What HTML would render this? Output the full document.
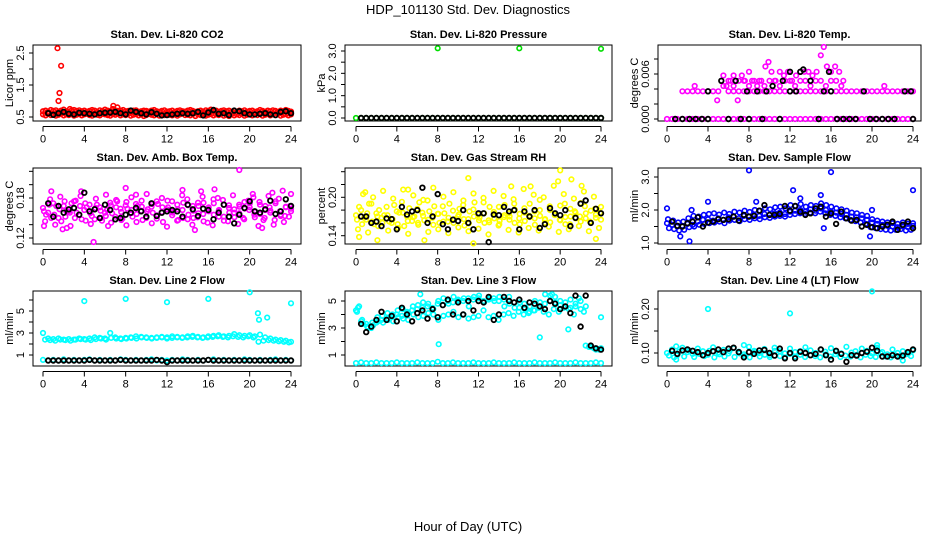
<!DOCTYPE html>
<html><head><meta charset="utf-8"><style>
body{margin:0;background:#fff}
svg{display:block}
text{font-family:"Liberation Sans",Arial,sans-serif;fill:#000}
</style></head><body>
<svg id="chart" width="936" height="540" viewBox="0 0 936 540" xmlns="http://www.w3.org/2000/svg">
<text x="468" y="14" font-size="13" text-anchor="middle">HDP_101130  Std. Dev. Diagnostics</text>
<text x="468" y="531" font-size="13" text-anchor="middle">Hour of Day (UTC)</text>
</svg>
<script>
// ---- data (hours spread evenly across 0..24 for colored, 0.5..24 for black) ----
const co2RedA = "0.68 0.70 0.66 0.72 0.69 0.71 0.67 0.70 0.73 0.68 0.66 0.70 0.72 0.69 0.71 0.68 0.70 0.67 0.69 0.72 0.70 0.66 0.71 0.69 0.73 0.70 0.68 0.75 0.71 0.69 0.70 0.72 0.68 0.69 0.67 0.70 0.71 0.66 0.68 0.70 0.69 0.67 0.70 0.72 0.68 0.66 0.69 0.71 0.67 0.68 0.70 0.66 0.69 0.71 0.68 0.67 0.70 0.72 0.69 0.66 0.68 0.70 0.67 0.71 0.69 0.73 0.68 0.70 0.66 0.69 0.71 0.68 0.70 0.67 0.69 0.66 0.70 0.68 0.71 0.67 0.69 0.70 0.66 0.68 0.72 0.69 0.67 0.70 0.68 0.71 0.69 0.66 0.70 0.68 0.72 0.69 0.67".split(" ").map(Number);
const co2RedB = "0.58 0.55 0.60 0.56 0.59 0.54 0.57 0.60 0.55 0.58 0.56 0.61 0.54 0.57 0.59 0.55 0.58 0.60 0.56 0.54 0.59 0.57 0.55 0.60 0.58 0.56 0.54 0.59 0.57 0.61 0.55 0.58 0.56 0.60 0.54 0.57 0.59 0.55 0.58 0.53 0.56 0.60 0.57 0.55 0.59 0.54 0.58 0.56 0.60 0.57 0.55 0.59 0.54 0.58 0.61 0.56 0.57 0.55 0.59 0.53 0.58 0.56 0.60 0.54 0.57 0.59 0.55 0.58 0.56 0.60 0.54 0.57 0.53 0.59 0.55 0.58 0.56 0.60 0.54 0.57 0.59 0.55 0.58 0.56 0.60 0.54 0.57 0.59 0.55 0.58 0.56 0.60 0.54 0.57 0.59 0.55 0.58".split(" ").map(Number);
const co2OutT = [1.4,1.75,1.6,1.5,6.8,7.2,2.6];
const co2OutV = [2.65,2.1,1.25,1.0,0.85,0.8,0.75];
const co2Black = "0.62 0.57 0.62 0.66 0.60 0.58 0.63 0.62 0.60 0.58 0.62 0.63 0.64 0.66 0.62 0.58 0.70 0.66 0.62 0.58 0.65 0.60 0.55 0.56 0.58 0.60 0.62 0.60 0.62 0.66 0.55 0.64 0.72 0.60 0.62 0.56 0.70 0.68 0.62 0.58 0.58 0.60 0.62 0.58 0.56 0.66 0.68 0.62".split(" ").map(Number);

const presGreen = "0 0 0 0 0 0 0 0 0 0 0 0 0 0 0 0 0 0 0 0 0 0 0 0 0 0 0 0 0 0 0 0 0 0 0 0 0 0 0 0 0 0 0 0 0 0 0 0 0".split(" ").map(Number);
const presOutT = [8,16,24];
const presOutV = [3.12,3.12,3.1];
const presBlack = "0 0 0 0 0 0 0 0 0 0 0 0 0 0 0 0 0 0 0 0 0 0 0 0 0 0 0 0 0 0 0 0 0 0 0 0 0 0 0 0 0 0 0 0 0 0 0 0".split(" ").map(Number);

const tempZero = "0 0 0 0 0 0 0 0 0 0 0 0 0 0 0 0 0 0 0 0 0 0 0 0 0 0 0 0 0 0 0 0 0 0 0 0 0 0 0 0 0 0 0 0 0 0 0 0 0".split(" ").map(Number);
const tempLow = "NaN NaN NaN 0.0037 0.0037 0.0037 0.0037 0.0037 0.0037 0.0037 0.0037 NaN 0.0037 0.0037 0.0037 0.0037 0.0037 0.0037 0.0037 0.0037 0.0037 0.0037 0.0037 0.0037 0.0037 0.0037 0.0037 0.0037 0.0037 0.0037 0.0037 0.0037 0.0037 0.0037 0.0037 0.0037 0.0037 0.0037 0.0037 0.0037 0.0037 0.0037 0.0037 0.0037 0.0037 0.0037 0.0037 0.0037 0.0037".split(" ").map(Number);
const tempMid = "NaN NaN NaN NaN NaN NaN NaN NaN NaN NaN NaN 0.0044 0.0051 0.0044 0.0051 0.0051 0.0044 0.0051 0.0051 0.0044 0.0051 0.0051 0.0044 0.0051 0.0051 0.0044 0.0051 0.0051 0.0044 0.0051 0.0051 0.0044 0.0051 0.0051 0.0044 NaN NaN NaN NaN NaN NaN NaN NaN NaN NaN NaN NaN NaN NaN".split(" ").map(Number);
const tempUpT = [2.7,4.9,5.5,5.8,6.2,6.5,6.9,7.3,7.6,8.0,8.3,8.8,9.2,9.6,9.9,10.2,10.6,11.0,11.4,11.8,12.2,12.6,13.0,13.4,13.8,14.2,14.6,15.0,15.3,15.6,16.0,16.4,16.8,17.2,21.2];
const tempUpV = [0.0044,0.0025,0.0058,0.0044,0.0051,0.0058,0.0025,0.0058,0.0051,0.0063,0.0051,0.0044,0.0051,0.0070,0.0076,0.0063,0.0051,0.0063,0.0058,0.0063,0.0051,0.0058,0.0063,0.0063,0.0063,0.0058,0.0063,0.0085,0.0096,0.0070,0.0063,0.0070,0.0063,0.0051,0.0044];
const tempBlackT = [0.8,1.5,2.2,2.8,3.4,4.0,4.0,5.3,6.0,6.7,7.2,7.8,8.0,8.8,9.3,9.7,10.3,11.0,11.3,12.0,12.0,12.6,13.0,13.3,14.0,14.8,15.3,15.8,16.0,16.6,17.2,17.8,18.4,19.2,19.8,20.4,21.0,21.6,22.2,23.2,23.8,24.0];
const tempBlackV = [0,0,0,0,0,0,0.0037,0.0051,0,0.0051,0,0.0037,0,0.0037,0,0.0037,0.0044,0,0.0051,0.0037,0.0063,0.0037,0.0063,0.0066,0.0051,0,0.0037,0.0063,0.0037,0,0,0,0,0.0037,0,0,0,0,0,0.0037,0.0037,0];

const ambA = "0.165 0.158 0.172 0.150 0.168 0.160 0.175 0.155 0.162 0.170 0.148 0.166 0.158 0.173 0.152 0.164 0.169 0.157 0.171 0.161 0.150 0.167 0.175 0.159 0.163 0.154 0.170 0.162 0.148 0.168 0.173 0.156 0.165 0.178 0.160 0.152 0.169 0.163 0.157 0.174 0.166 0.151 0.170 0.162 0.158 0.172 0.155 0.167 0.164".split(" ").map(Number);
const ambB = "0.145 0.178 0.140 0.182 0.152 0.138 0.176 0.183 0.146 0.141 0.179 0.150 0.185 0.143 0.177 0.147 0.139 0.181 0.144 0.176 0.186 0.142 0.149 0.180 0.137 0.175 0.146 0.184 0.178 0.140 0.151 0.182 0.143 0.139 0.180 0.177 0.145 0.184 0.141 0.150 0.176 0.181 0.138 0.147 0.183 0.140 0.179 0.144 0.152".split(" ").map(Number);
const ambC = "0.160 0.170 0.155 0.163 0.175 0.158 0.150 0.168 0.172 0.157 0.165 0.161 0.153 0.169 0.166 0.159 0.174 0.162 0.156 0.167 0.160 0.171 0.154 0.166 0.176 0.158 0.163 0.150 0.169 0.161 0.157 0.173 0.166 0.155 0.162 0.170 0.158 0.151 0.167 0.164 0.172 0.159 0.156 0.168 0.161 0.175 0.153 0.166 0.160".split(" ").map(Number);
const ambD = "0.155 0.150 0.168 0.145 0.160 0.172 0.158 0.148 0.166 0.153 0.170 0.146 0.162 0.157 0.175 0.149 0.164 0.152 0.168 0.147 0.163 0.158 0.171 0.144 0.166 0.160 0.147 0.173 0.155 0.150 0.168 0.145 0.160 0.172 0.152 0.146 0.165 0.158 0.170 0.148 0.162 0.155 0.174 0.150 0.166 0.147 0.160 0.153 0.168".split(" ").map(Number);
const ambOutT = [0.1,0.8,1.9,2.3,3.7,4.9,6.3,8.0,9.0,13.5,14.7,15.3,16.6,19.0,20.3,21.2,22.2,23.2,24];
const ambOutV = [0.138,0.190,0.133,0.135,0.190,0.114,0.138,0.195,0.185,0.192,0.132,0.190,0.193,0.222,0.186,0.135,0.188,0.191,0.186];
const ambBlack = "0.172 0.152 0.168 0.158 0.163 0.165 0.155 0.188 0.160 0.163 0.150 0.170 0.162 0.148 0.150 0.155 0.158 0.165 0.160 0.152 0.172 0.153 0.158 0.160 0.162 0.160 0.152 0.170 0.163 0.153 0.164 0.162 0.148 0.158 0.170 0.152 0.142 0.155 0.165 0.175 0.160 0.158 0.163 0.176 0.156 0.160 0.178 0.168".split(" ").map(Number);

const rhA = "0.172 0.180 0.165 0.190 0.175 0.168 0.185 0.160 0.178 0.193 0.170 0.163 0.182 0.176 0.195 0.168 0.174 0.186 0.162 0.179 0.170 0.188 0.166 0.181 0.173 0.192 0.164 0.177 0.185 0.169 0.175 0.190 0.167 0.183 0.171 0.178 0.196 0.165 0.180 0.174 0.187 0.169 0.182 0.176 0.191 0.167 0.179 0.173 0.185".split(" ").map(Number);
const rhB = "0.150 0.205 0.145 0.200 0.155 0.210 0.148 0.198 0.152 0.212 0.143 0.203 0.157 0.196 0.146 0.215 0.150 0.201 0.144 0.208 0.153 0.195 0.147 0.206 0.151 0.199 0.142 0.210 0.156 0.202 0.149 0.197 0.145 0.213 0.152 0.204 0.148 0.200 0.154 0.218 0.146 0.205 0.150 0.198 0.155 0.209 0.147 0.201 0.152".split(" ").map(Number);
const rhC = "0.165 0.158 0.175 0.162 0.170 0.160 0.172 0.166 0.158 0.176 0.163 0.169 0.160 0.171 0.165 0.157 0.174 0.162 0.168 0.160 0.173 0.166 0.159 0.170 0.164 0.175 0.161 0.167 0.158 0.172 0.165 0.160 0.174 0.163 0.169 0.157 0.171 0.166 0.161 0.173 0.164 0.158 0.170 0.167 0.162 0.175 0.160 0.168 0.165".split(" ").map(Number);
const rhD = "0.185 0.168 0.190 0.158 0.180 0.172 0.162 0.188 0.176 0.155 0.183 0.170 0.192 0.164 0.178 0.186 0.160 0.175 0.190 0.166 0.182 0.156 0.178 0.192 0.168 0.160 0.185 0.174 0.163 0.188 0.170 0.181 0.158 0.176 0.190 0.167 0.180 0.160 0.186 0.172 0.165 0.190 0.158 0.178 0.170 0.186 0.162 0.182 0.176".split(" ").map(Number);
const rhOutT = [0.3,0.9,2.1,5.1,6.7,11.0,11.5,15.2,17.1,19.8,20.0,21.1,22.1,23.5];
const rhOutV = [0.138,0.208,0.133,0.212,0.133,0.230,0.128,0.217,0.217,0.225,0.242,0.228,0.218,0.135];
const rhBlack = "0.170 0.170 0.160 0.162 0.155 0.167 0.166 0.150 0.185 0.173 0.178 0.180 0.215 0.160 0.170 0.205 0.158 0.150 0.165 0.163 0.180 0.160 0.150 0.175 0.175 0.130 0.173 0.172 0.185 0.178 0.180 0.150 0.178 0.170 0.180 0.152 0.158 0.183 0.175 0.172 0.180 0.155 0.168 0.190 0.195 0.160 0.182 0.175".split(" ").map(Number);

const flowA = "1.60 1.55 1.50 1.52 1.58 1.55 1.65 1.70 1.72 1.68 1.75 1.70 1.78 1.80 1.75 1.82 1.80 1.85 1.82 1.88 1.85 1.90 1.92 1.88 1.95 1.98 2.00 1.95 2.02 1.98 2.05 2.00 1.95 1.92 1.88 1.85 1.80 1.78 1.75 1.70 1.62 1.58 1.55 1.52 1.50 1.48 1.50 1.48 1.52".split(" ").map(Number);
const flowB = "1.45 1.42 1.38 1.40 1.48 1.50 1.55 1.58 1.60 1.62 1.65 1.60 1.68 1.70 1.66 1.72 1.70 1.75 1.72 1.78 1.76 1.80 1.82 1.80 1.85 1.88 1.90 1.88 1.92 1.90 1.95 1.90 1.85 1.82 1.78 1.75 1.70 1.66 1.62 1.58 1.48 1.45 1.42 1.40 1.38 1.40 1.42 1.38 1.40".split(" ").map(Number);
const flowC = "1.72 1.68 1.62 1.65 1.75 1.82 1.80 1.85 1.88 1.90 1.86 1.92 1.88 1.95 1.92 1.98 1.94 2.00 1.98 2.05 2.02 2.08 2.10 2.05 2.15 2.12 2.18 2.10 2.15 2.12 2.20 2.15 2.10 2.05 2.02 1.98 1.92 1.90 1.85 1.82 1.72 1.68 1.65 1.62 1.60 1.58 1.62 1.58 1.60".split(" ").map(Number);
const flowOutT = [0,1.3,2.2,2.4,4.0,8.0,8.7,12.3,13.0,15.0,15.3,16.0,19.8,20.0,24];
const flowOutV = [2.05,1.2,1.05,2.0,2.25,3.2,2.25,2.6,2.35,2.45,1.45,3.15,1.2,2.0,2.6];
const flowBlack = "1.65 1.52 1.50 1.60 1.65 1.78 1.50 1.62 1.65 1.72 1.70 1.72 1.80 1.68 1.85 1.80 1.82 1.98 2.15 1.85 1.85 1.88 2.12 1.98 2.12 1.95 1.85 1.90 2.05 2.10 1.80 1.90 1.58 1.95 1.75 1.68 1.70 1.50 1.55 1.48 1.45 1.50 1.55 1.65 1.40 1.55 1.65 1.45".split(" ").map(Number);

const l2A = "3.0 2.5 2.45 2.5 2.4 2.45 2.4 2.5 2.45 2.5 2.6 2.55 2.5 3.0 2.6 2.5 2.55 2.6 2.7 2.65 2.6 2.55 2.6 2.65 2.6 2.7 2.65 2.6 2.7 2.75 2.65 2.6 2.7 2.75 2.8 2.7 2.75 2.9 2.8 2.75 2.8 2.7 2.85 2.6 2.5 2.4 2.35 2.3 2.2".split(" ").map(Number);
const l2B = "2.4 2.35 2.3 2.4 2.35 2.3 2.4 2.45 2.4 2.35 2.45 2.5 2.4 2.55 2.5 2.45 2.5 2.55 2.5 2.6 2.55 2.5 2.55 2.6 2.5 2.55 2.6 2.55 2.6 2.65 2.6 2.55 2.6 2.65 2.7 2.65 2.6 2.7 2.65 2.6 2.7 2.6 2.2 2.3 2.35 2.3 2.25 2.2 2.15".split(" ").map(Number);
const l2Low = "0.55 0.5 0.55 0.5 0.6 0.5 0.55 0.5 0.55 0.6 0.5 0.55 0.5 0.55 0.5 0.6 0.55 0.5 0.55 0.5 0.55 0.6 0.5 0.55 0.5 0.55 0.5 0.6 0.55 0.5 0.55 0.5 0.55 0.6 0.5 0.55 0.5 0.55 0.5 0.6 0.55 0.5 0.55 0.5 0.55 0.6 0.5 0.55 0.5".split(" ").map(Number);
const l2OutT = [4,8,12,16,20,20.8,20.9,21.7,24];
const l2OutV = [5.9,6.1,5.8,6.1,6.7,4.8,4.2,4.4,5.7];
const l2Black = "0.5 0.5 0.5 0.5 0.5 0.5 0.5 0.5 0.55 0.5 0.5 0.5 0.5 0.5 0.55 0.5 0.5 0.5 0.5 0.5 0.5 0.55 0.5 0.35 0.5 0.5 0.5 0.5 0.5 0.5 0.5 0.55 0.5 0.5 0.5 0.5 0.5 0.5 0.5 0.5 0.5 0.5 0.5 0.5 0.5 0.5 0.5 0.5".split(" ").map(Number);

const l3A = "4.3 3.5 3.3 3.0 3.4 3.6 3.7 3.8 4.0 3.9 4.2 4.3 4.4 4.5 4.6 4.5 4.8 4.7 5.0 4.9 5.1 5.0 5.2 5.1 5.2 5.0 5.1 5.2 5.0 5.1 5.3 4.9 4.5 4.8 4.2 4.3 4.6 4.8 5.0 5.3 5.0 4.6 4.5 4.8 5.0 1.7 1.6 1.5 1.5".split(" ").map(Number);
const l3B = "4.5 3.3 3.0 3.2 3.5 3.4 3.6 3.5 3.8 3.7 3.6 4.0 3.8 3.9 4.1 4.0 3.6 3.9 4.0 4.2 3.8 4.0 3.7 3.8 3.9 4.3 3.8 3.9 3.6 4.0 4.1 3.9 4.2 4.0 4.1 4.3 4.5 4.2 4.0 4.4 4.2 4.5 4.4 4.0 5.2 4.2 1.6 1.5 1.4".split(" ").map(Number);
const l3C = "4.2 3.6 3.1 3.4 3.8 3.9 4.1 4.0 4.3 4.4 4.1 4.6 4.7 4.9 4.8 4.4 5.0 5.2 4.8 5.3 5.0 5.2 4.6 5.3 5.4 4.9 5.2 5.0 5.3 4.6 4.8 4.5 4.9 4.4 4.6 5.0 4.9 5.5 5.4 4.9 4.7 4.9 5.1 4.6 4.4 4.6 1.6 1.4 1.5".split(" ").map(Number);
const l3Low = "0.4 0.45 0.4 0.4 0.45 0.4 0.4 0.4 0.45 0.4 0.4 0.4 0.45 0.4 0.4 0.4 0.5 0.4 0.4 0.45 0.4 0.4 0.4 0.45 0.4 0.4 0.4 0.45 0.4 0.4 0.4 0.45 0.4 0.4 0.4 0.45 0.4 0.4 0.4 0.45 0.4 0.4 0.4 0.45 0.4 0.4 0.4 0.45 0.4".split(" ").map(Number);
const l3OutT = [8.1,18,19.2,20.8,24,6.3,0.3];
const l3OutV = [1.8,2.3,5.5,2.9,3.8,5.5,4.6];
const l3Black = "3.3 2.7 3.1 3.6 4.2 3.6 3.9 3.5 4.5 4.0 3.5 4.1 4.3 3.7 4.4 3.8 4.7 5.1 4.0 4.9 4.0 5.0 4.3 5.0 4.9 5.3 3.6 4.0 5.3 5.0 4.9 5.1 4.5 4.9 4.8 4.6 4.4 5.0 4.8 4.4 4.6 4.1 5.4 3.1 5.4 1.7 1.5 1.4".split(" ").map(Number);

const l4A = "0.100 0.108 0.095 0.112 0.102 0.098 0.110 0.104 0.096 0.113 0.101 0.107 0.099 0.111 0.103 0.097 0.114 0.105 0.100 0.109 0.095 0.112 0.104 0.099 0.110 0.102 0.096 0.113 0.106 0.100 0.108 0.097 0.111 0.103 0.099 0.114 0.101 0.096 0.110 0.105 0.099 0.112 0.102 0.097 0.108 0.100 0.104 0.098 0.106".split(" ").map(Number);
const l4B = "0.094 0.090 0.103 0.092 0.106 0.091 0.098 0.093 0.105 0.090 0.097 0.092 0.104 0.091 0.099 0.093 0.090 0.102 0.092 0.096 0.091 0.105 0.093 0.090 0.098 0.092 0.104 0.091 0.095 0.093 0.090 0.103 0.092 0.097 0.091 0.094 0.092 0.104 0.090 0.096 0.093 0.091 0.099 0.092 0.090 0.094 0.091 0.097 0.093".split(" ").map(Number);
const l4OutT = [0.9,4.0,7.5,12.0,20.0,23.0,0.9,20.5];
const l4OutV = [0.085,0.20,0.118,0.19,0.24,0.083,0.115,0.118];
const l4Black = "0.105 0.098 0.106 0.108 0.105 0.102 0.095 0.100 0.104 0.108 0.102 0.110 0.112 0.102 0.090 0.102 0.098 0.106 0.107 0.100 0.094 0.110 0.088 0.100 0.088 0.103 0.100 0.095 0.098 0.108 0.095 0.085 0.105 0.098 0.080 0.095 0.094 0.100 0.103 0.112 0.105 0.092 0.092 0.095 0.092 0.094 0.102 0.108".split(" ").map(Number);

// ---- rendering ----
const NS = "http://www.w3.org/2000/svg";
const svg = document.getElementById("chart");
const cols = {L:{b0:33,b1:301,x0:43,x24:291}, M:{b0:345,b1:612,x0:356,x24:601}, R:{b0:658,b1:921,x0:667,x24:913}};
const rows = [{t:45,b:121},{t:168,b:244},{t:291,b:366}];

function el(tag, attrs, parent){ const e=document.createElementNS(NS,tag); for(const k in attrs) e.setAttribute(k,attrs[k]); (parent||svg).appendChild(e); return e; }

function makePanel(name, title, ylab, col, row, ref, ticks, labels){
  const c=cols[col], r=rows[row];
  const g=el("g",{});
  
  
  const sx = t => c.x0 + t*(c.x24-c.x0)/24;
  const sy = v => ref[1] + (v-ref[0])*(ref[3]-ref[1])/(ref[2]-ref[0]);
  const box=el("rect",{x:c.b0,y:r.t,width:c.b1-c.b0,height:r.b-r.t,fill:"none",stroke:"#000","stroke-width":1},g);
  
  
  const tt=el("text",{x:(c.b0+c.b1)/2,y:r.t-7,"font-size":"11","font-weight":"bold","text-anchor":"middle"},g);
  tt.textContent=title;
  
  
  const yl=el("text",{transform:`translate(${c.b0-20},${(r.t+r.b)/2}) rotate(-90)`,"font-size":"11","text-anchor":"middle"},g);
  yl.textContent=ylab;
  
  
  // x axis
  const xa=el("g",{},g);
  
  
  const xb=r.b+0.5;
  el("line",{x1:sx(0),x2:sx(24),y1:xb+5,y2:xb+5,stroke:"#000"},xa);
  [0,4,8,12,16,20,24].forEach(h=>{
    el("line",{x1:sx(h),x2:sx(h),y1:xb+5,y2:xb+10,stroke:"#000"},xa);
    const t=el("text",{x:sx(h),y:xb+21,"font-size":"11","text-anchor":"middle"},xa);
    t.textContent=String(h);
  });
  // y axis
  const ya=el("g",{},g);
  
  
  const xl=c.b0;
  el("line",{x1:xl,x2:xl,y1:sy(ticks[0]),y2:sy(ticks[ticks.length-1]),stroke:"#000"},ya);
  ticks.forEach((v,i)=>{
    el("line",{x1:xl-4,x2:xl,y1:sy(v),y2:sy(v),stroke:"#000"},ya);
    if(labels[i]){ const t=el("text",{transform:`translate(${xl-9},${sy(v)}) rotate(-90)`,"font-size":"11","text-anchor":"middle"},ya); t.textContent=labels[i]; }
  });
  const pts=el("g",{fill:"none"},g);
  
  
  return {sx,sy,pts};
}
function dot(p,x,y,color,w){ el("circle",{cx:x.toFixed(1),cy:y.toFixed(1),r:2.3,stroke:color,"stroke-width":w||1.6},p.pts); }
function series(p, vals, color, start, end, w){
  const n=vals.length;
  vals.forEach((v,i)=>{ if(isNaN(v)) return; const t=start+i*(end-start)/(n-1); dot(p,p.sx(t),p.sy(v),color,w); });
}
function pairs(p, ts, vs, color, w){ ts.forEach((t,i)=>dot(p,p.sx(t),p.sy(vs[i]),color,w)); }

let p;
p=makePanel("co2","Stan. Dev. Li-820 CO2","Licor ppm","L",0,[0.5,117,2.5,53],[0.5,1,1.5,2,2.5],["0.5","","1.5","","2.5"]);
series(p,co2RedA,"#ff0000",0,24); series(p,co2RedB,"#ff0000",0,24); pairs(p,co2OutT,co2OutV,"#ff0000"); series(p,co2Black,"#000",0.5,24,1.8);

p=makePanel("pressure","Stan. Dev. Li-820 Pressure","kPa","M",0,[0,118,3,51],[0,0.5,1,1.5,2,2.5,3],["0.0","","1.0","","2.0","","3.0"]);
series(p,presGreen,"#00dd00",0,24); series(p,presBlack,"#000",0.5,24,1.8); pairs(p,presOutT,presOutV,"#00dd00");

p=makePanel("temp","Stan. Dev. Li-820 Temp.","degrees C","R",0,[0,119,0.006,74],[0,0.002,0.004,0.006,0.008],["0.000","","","0.006",""]);
series(p,tempZero,"#ff00ff",0,24); series(p,tempLow,"#ff00ff",0,24); series(p,tempMid,"#ff00ff",0,24); pairs(p,tempUpT,tempUpV,"#ff00ff"); pairs(p,tempBlackT,tempBlackV,"#000",1.8);

p=makePanel("amb-temp","Stan. Dev. Amb. Box Temp.","degrees C","L",1,[0.18,198,0.12,238],[0.12,0.14,0.16,0.18,0.20,0.22],["0.12","","","0.18","",""]);
series(p,ambA,"#ff00ff",0,24); series(p,ambB,"#ff00ff",0.2,23.8); series(p,ambC,"#ff00ff",0.1,24); series(p,ambD,"#ff00ff",0.3,23.9); pairs(p,ambOutT,ambOutV,"#ff00ff"); series(p,ambBlack,"#000",0.5,24,1.8);

p=makePanel("gas-rh","Stan. Dev. Gas Stream RH","percent","M",1,[0.20,197.3,0.14,235.7],[0.14,0.16,0.18,0.20,0.22,0.24],["0.14","","","0.20","",""]);
series(p,rhA,"#ffff00",0,24); series(p,rhB,"#ffff00",0.2,23.8); series(p,rhC,"#ffff00",0.1,24); series(p,rhD,"#ffff00",0.3,23.9); pairs(p,rhOutT,rhOutV,"#ffff00"); series(p,rhBlack,"#000",0.5,24,1.8);

p=makePanel("sample-flow","Stan. Dev. Sample Flow","ml/min","R",1,[1,243,3,177],[1,1.5,2,2.5,3],["1.0","","2.0","","3.0"]);
series(p,flowA,"#0000ff",0,24); series(p,flowB,"#0000ff",0.2,23.8); series(p,flowC,"#0000ff",0.1,24); pairs(p,flowOutT,flowOutV,"#0000ff"); series(p,flowBlack,"#000",0.5,24,1.8);

p=makePanel("line2-flow","Stan. Dev. Line 2 Flow","ml/min","L",2,[1,355,5,311],[1,2,3,4,5,6],["1","","3","","5",""]);
series(p,l2A,"#00ffff",0,24); series(p,l2B,"#00ffff",0.2,23.8); series(p,l2Low,"#00ffff",0,24); pairs(p,l2OutT,l2OutV,"#00ffff"); series(p,l2Black,"#000",0.5,24,1.8);

p=makePanel("line3-flow","Stan. Dev. Line 3 Flow","ml/min","M",2,[1,355,5,301],[1,2,3,4,5],["1","","3","","5"]);
series(p,l3A,"#00ffff",0,24); series(p,l3B,"#00ffff",0.2,23.8); series(p,l3C,"#00ffff",0.1,24); series(p,l3Low,"#00ffff",0,24); pairs(p,l3OutT,l3OutV,"#00ffff"); series(p,l3Black,"#000",0.5,24,1.8);

p=makePanel("line4-flow","Stan. Dev. Line 4 (LT) Flow","ml/min","R",2,[0.10,353,0.20,309],[0.10,0.15,0.20],["0.10","","0.20"]);
series(p,l4A,"#00ffff",0,24); series(p,l4B,"#00ffff",0.2,23.8); pairs(p,l4OutT,l4OutV,"#00ffff"); series(p,l4Black,"#000",0.5,24,1.8);
</script>
</body></html>
